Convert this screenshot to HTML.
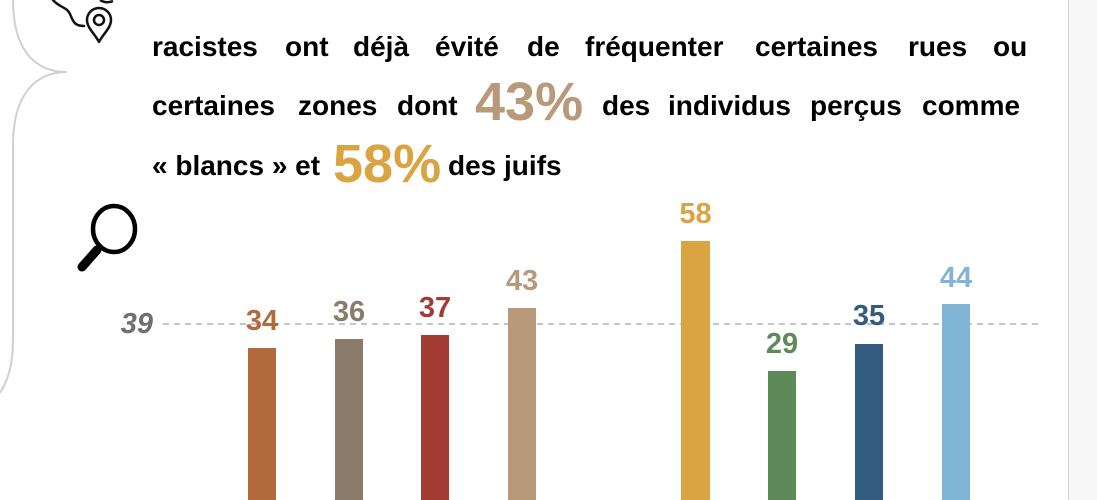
<!DOCTYPE html>
<html>
<head>
<meta charset="utf-8">
<style>
  html, body { margin: 0; padding: 0; background: #ffffff; }
  body { width: 1097px; height: 500px; overflow: hidden; }
  svg { display: block; }
  .t { font-family: "Liberation Sans", Arial, sans-serif; font-weight: bold; font-size: 28px; fill: #000; }
  .big { font-family: "Liberation Sans", Arial, sans-serif; font-weight: bold; font-size: 54px; }
  .lab { font-family: "Liberation Sans", Arial, sans-serif; font-weight: bold; font-size: 29px; }
</style>
</head>
<body>
<svg width="1097" height="500" viewBox="0 0 1097 500" xmlns="http://www.w3.org/2000/svg">
  <rect x="0" y="0" width="1097" height="500" fill="#ffffff"/>
  <!-- right panel -->
  <rect x="1068" y="0" width="29" height="500" fill="#f7f7f7"/>
  <line x1="1068.5" y1="0" x2="1068.5" y2="500" stroke="#d2d2d2" stroke-width="1"/>

  <!-- brace decoration -->
  <path d="M13,0 C13,50 35,72 67,72 C35,72 13,95 13,145 L13,340 C13,365 8,380 0,393" fill="none" stroke="#d0d0d0" stroke-width="2"/>

  <!-- map icon -->
  <path d="M53,0 C60,8 67,7 70,14 C73,21 74,26 84,26" fill="none" stroke="#111" stroke-width="2.5" stroke-linecap="round"/>
  <path d="M100,0 Q106,4 113,1" fill="none" stroke="#111" stroke-width="2.5"/>
  <path d="M99,42 C95,34 87,28 87,20 A12,12 0 0 1 111,20 C111,28 103,34 99,42 Z" fill="none" stroke="#111" stroke-width="2.5" stroke-linejoin="round"/>
  <circle cx="99" cy="20" r="5" fill="none" stroke="#111" stroke-width="2.5"/>

  <!-- magnifier -->
  <ellipse cx="114" cy="229" rx="21" ry="23" fill="none" stroke="#000" stroke-width="4.5"/>
  <line x1="97" y1="250" x2="82" y2="267" stroke="#000" stroke-width="9" stroke-linecap="round"/>

  <!-- text line 1 -->
  <text class="t" y="56">
    <tspan x="152">racistes</tspan>
    <tspan x="285">ont</tspan>
    <tspan x="353">déjà</tspan>
    <tspan x="435">évité</tspan>
    <tspan x="527">de</tspan>
    <tspan x="585">fréquenter</tspan>
    <tspan x="755">certaines</tspan>
    <tspan x="908">rues</tspan>
    <tspan x="993">ou</tspan>
  </text>
  <!-- text line 2 -->
  <text class="t" y="115">
    <tspan x="152">certaines</tspan>
    <tspan x="298">zones</tspan>
    <tspan x="397">dont</tspan>
    <tspan x="602">des</tspan>
    <tspan x="668">individus</tspan>
    <tspan x="810">perçus</tspan>
    <tspan x="922">comme</tspan>
  </text>
  <text class="big" x="475" y="120" fill="#b89a7a">43%</text>
  <!-- text line 3 -->
  <text class="t" x="152" y="175">« blancs » et</text>
  <text class="big" x="333" y="182" fill="#d9a441">58%</text>
  <text class="t" x="448" y="175">des juifs</text>

  <!-- reference line -->
  <line x1="163" y1="324" x2="1042" y2="324" stroke="#b4b4b4" stroke-width="1.6" stroke-dasharray="6 5"/>
  <text class="lab" x="153" y="333" text-anchor="end" font-style="italic" font-size="26" fill="#6e6e73">39</text>

  <!-- bars -->
  <rect x="248" y="348" width="28" height="152" fill="#b06a3b"/>
  <rect x="335" y="339" width="28" height="161" fill="#8b7b6a"/>
  <rect x="421" y="335" width="28" height="165" fill="#a33b34"/>
  <rect x="508" y="308" width="28" height="192" fill="#b89a7a"/>
  <rect x="681" y="241" width="29" height="259" fill="#dba442"/>
  <rect x="768" y="371" width="28" height="129" fill="#5e8a5a"/>
  <rect x="855" y="344" width="28" height="156" fill="#345b80"/>
  <rect x="942" y="304" width="28" height="196" fill="#80b5d6"/>

  <!-- labels -->
  <text class="lab" x="262" y="330" text-anchor="middle" fill="#b06a3b">34</text>
  <text class="lab" x="349" y="321" text-anchor="middle" fill="#8b7b6a">36</text>
  <text class="lab" x="435" y="317" text-anchor="middle" fill="#a33b34">37</text>
  <text class="lab" x="522" y="290" text-anchor="middle" fill="#b89a7a">43</text>
  <text class="lab" x="695.5" y="223" text-anchor="middle" fill="#dba442">58</text>
  <text class="lab" x="782" y="353" text-anchor="middle" fill="#5e8a5a">29</text>
  <text class="lab" x="869" y="325" text-anchor="middle" fill="#345b80">35</text>
  <text class="lab" x="956" y="287" text-anchor="middle" fill="#80b5d6">44</text>
</svg>
</body>
</html>
